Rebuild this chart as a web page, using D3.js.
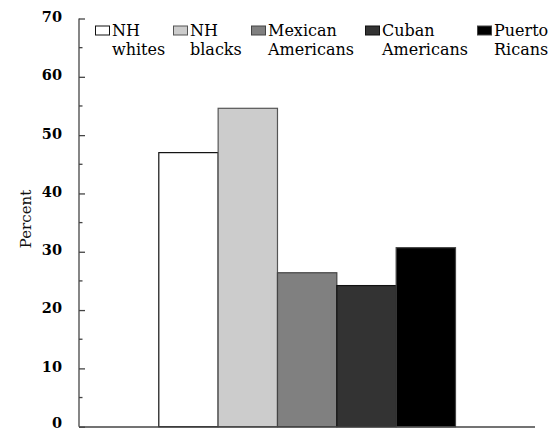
<!DOCTYPE html>
<html>
<head>
<meta charset="utf-8">
<script src="https://cdn.jsdelivr.net/npm/d3@7"></script>
<style>
  html, body { margin: 0; padding: 0; background: #fff; }
  svg { display: block; }
</style>
</head>
<body>
<svg id="chart" width="553" height="431"></svg>
<script>
const categories = ["NH whites", "NH blacks", "Mexican Americans", "Cuban Americans", "Puerto Ricans"];
const labelLine1 = ["NH", "NH", "Mexican", "Cuban", "Puerto"];
const labelLine2 = ["whites", "blacks", "Americans", "Americans", "Ricans"];
const values = [47.0, 54.6, 26.4, 24.2, 30.7];
const fills = ["#ffffff", "#cccccc", "#808080", "#333333", "#000000"];
const strokes = ["#111111", "#555555", "#444444", "#111111", "#444444"];
const yTicks = [0, 10, 20, 30, 40, 50, 60, 70];
const yMinorTicks = [5, 15, 25, 35, 45, 55, 65];
const legendX = [95, 173, 251, 365, 477];

const svg = d3.select("#chart");
const axisLeft = 79, axisRight = 535;
const y = d3.scaleLinear().domain([0, 70]).range([426.7, 18.5]);
const x = d3.scaleBand().domain(categories).range([158.3, 455]).paddingInner(0).paddingOuter(0);

// bars
svg.append("g").selectAll("rect").data(categories).join("rect")
  .attr("x", d => x(d) + 0.5)
  .attr("y", (d, i) => y(values[i]))
  .attr("width", x.bandwidth())
  .attr("height", (d, i) => y(0) - y(values[i]))
  .attr("fill", (d, i) => fills[i])
  .attr("stroke", (d, i) => strokes[i])
  .attr("stroke-width", 1.2);

// y axis
const yAxis = d3.axisLeft(y).tickValues(yTicks).tickSize(-6).tickPadding(17).tickFormat(d3.format("d"));
const gy = svg.append("g").attr("transform", `translate(${axisLeft},0)`).call(yAxis);
gy.select(".domain").attr("stroke", "#444").attr("stroke-width", 1.3).attr("d", `M0,${y(70)}V${y(0)}`);
gy.selectAll(".tick line").attr("stroke", "#444").attr("stroke-width", 1.3);
gy.selectAll(".tick text")
  .attr("font-family", "'DejaVu Serif', serif")
  .attr("font-weight", "bold")
  .attr("font-size", 14.5)
  .attr("dy", d => d === 0 ? "0.05em" : "0.2em")
  .attr("fill", "#000");
gy.selectAll(".minor").data(yMinorTicks).join("line")
  .attr("class", "minor")
  .attr("x1", 0).attr("x2", 3.5)
  .attr("y1", d => y(d)).attr("y2", d => y(d))
  .attr("stroke", "#444").attr("stroke-width", 1.3);

// x baseline
svg.append("line")
  .attr("x1", axisLeft).attr("x2", axisRight)
  .attr("y1", y(0) + 0.3).attr("y2", y(0) + 0.3)
  .attr("stroke", "#444").attr("stroke-width", 1.5);

// y label
svg.append("text")
  .attr("transform", `translate(30.5,219) rotate(-90)`)
  .attr("text-anchor", "middle")
  .attr("font-family", "'DejaVu Serif', serif")
  .attr("font-size", 15)
  .attr("fill", "#111")
  .text("Percent");

// legend
const leg = svg.append("g").selectAll("g").data(categories).join("g")
  .attr("transform", (d, i) => `translate(${legendX[i]},0)`);
leg.append("rect")
  .attr("x", 0.5).attr("y", 26)
  .attr("width", 14).attr("height", 9)
  .attr("fill", (d, i) => fills[i])
  .attr("stroke", (d, i) => i === 0 ? "#111" : strokes[i])
  .attr("stroke-width", 1);
leg.append("text")
  .attr("x", 17).attr("y", 35.5)
  .attr("font-family", "'DejaVu Serif', serif")
  .attr("font-size", 16)
  .attr("fill", "#000")
  .text((d, i) => labelLine1[i]);
leg.append("text")
  .attr("x", 17).attr("y", 54.5)
  .attr("font-family", "'DejaVu Serif', serif")
  .attr("font-size", 16)
  .attr("fill", "#000")
  .text((d, i) => labelLine2[i]);
</script>
</body>
</html>
